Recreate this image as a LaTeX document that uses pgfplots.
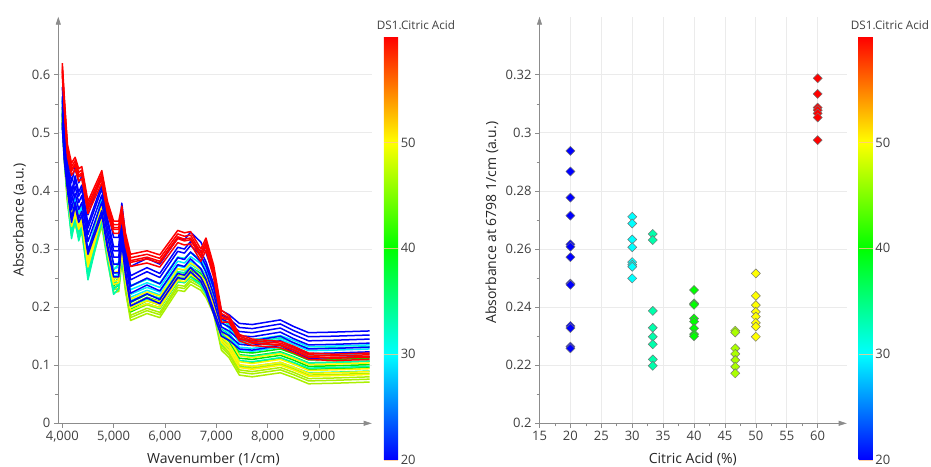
\documentclass[border=0pt]{standalone}
\usepackage{pgfplots}
\usepackage{pgfplotstable}
\usepackage{fontspec}
\setmainfont{Open Sans}
\pgfplotsset{compat=1.18}
\usetikzlibrary{arrows.meta}
\definecolor{cBlue}{RGB}{0,0,255}
\definecolor{cCyan}{RGB}{0,235,255}
\definecolor{cTeal}{RGB}{0,250,170}
\definecolor{cGreen}{RGB}{0,230,0}
\definecolor{cYG}{RGB}{170,240,0}
\definecolor{cYellow}{RGB}{255,245,0}
\definecolor{cRed}{RGB}{255,0,0}
\definecolor{tickgray}{RGB}{64,64,64}
\definecolor{axgray}{RGB}{140,140,140}

\pgfplotstableread{
x a b c d e
4000 0.620 0.614 0.609 0.606 0.599
4040 0.560 0.554 0.549 0.546 0.539
4100 0.480 0.474 0.469 0.466 0.459
4180 0.448 0.442 0.437 0.434 0.427
4250 0.458 0.452 0.447 0.444 0.437
4320 0.438 0.432 0.427 0.424 0.417
4380 0.442 0.436 0.431 0.428 0.421
4500 0.382 0.376 0.371 0.368 0.361
4770 0.435 0.429 0.424 0.421 0.414
4880 0.382 0.376 0.371 0.368 0.361
5000 0.348 0.342 0.337 0.334 0.327
5100 0.348 0.342 0.337 0.334 0.327
5160 0.374 0.368 0.363 0.360 0.353
5230 0.328 0.322 0.317 0.314 0.307
5330 0.291 0.285 0.280 0.277 0.270
5650 0.297 0.291 0.286 0.283 0.276
5900 0.290 0.284 0.279 0.276 0.269
6250 0.332 0.326 0.321 0.318 0.311
6380 0.328 0.322 0.317 0.314 0.307
6500 0.330 0.324 0.319 0.316 0.309
6700 0.300 0.294 0.289 0.286 0.279
6800 0.319 0.313 0.308 0.305 0.298
6950 0.272 0.266 0.261 0.258 0.251
7100 0.195 0.189 0.184 0.181 0.174
7250 0.185 0.182 0.179 0.178 0.174
7450 0.153 0.150 0.147 0.146 0.142
7700 0.145 0.142 0.139 0.138 0.134
8250 0.141 0.138 0.135 0.134 0.130
8500 0.133 0.130 0.127 0.126 0.122
8800 0.121 0.118 0.115 0.114 0.110
9300 0.119 0.116 0.113 0.112 0.108
9990 0.121 0.118 0.115 0.114 0.110
}\tRed

\pgfplotstableread{
x a b c d e f g
4000 0.579 0.563 0.556 0.545 0.533 0.518 0.511
4040 0.519 0.503 0.496 0.485 0.473 0.458 0.451
4100 0.469 0.453 0.446 0.435 0.423 0.408 0.401
4180 0.414 0.398 0.391 0.380 0.368 0.353 0.346
4250 0.442 0.426 0.419 0.408 0.396 0.381 0.374
4320 0.414 0.398 0.391 0.380 0.368 0.353 0.346
4380 0.426 0.410 0.403 0.392 0.380 0.365 0.358
4500 0.359 0.343 0.336 0.325 0.313 0.298 0.291
4770 0.427 0.411 0.404 0.393 0.381 0.366 0.359
4880 0.369 0.353 0.346 0.335 0.323 0.308 0.301
5000 0.320 0.304 0.297 0.286 0.274 0.259 0.252
5100 0.320 0.304 0.297 0.286 0.274 0.259 0.252
5160 0.379 0.363 0.356 0.345 0.333 0.318 0.311
5230 0.324 0.308 0.301 0.290 0.278 0.263 0.256
5330 0.270 0.254 0.247 0.236 0.224 0.209 0.202
5650 0.284 0.268 0.261 0.250 0.238 0.223 0.216
5900 0.274 0.258 0.251 0.240 0.228 0.213 0.206
6250 0.319 0.303 0.296 0.285 0.273 0.258 0.251
6380 0.316 0.300 0.293 0.282 0.270 0.255 0.248
6500 0.329 0.313 0.306 0.295 0.283 0.268 0.261
6700 0.312 0.296 0.289 0.278 0.266 0.251 0.244
6800 0.294 0.278 0.271 0.260 0.248 0.233 0.226
6950 0.256 0.240 0.233 0.222 0.210 0.195 0.188
7100 0.194 0.187 0.180 0.173 0.166 0.158 0.150
7250 0.187 0.180 0.173 0.166 0.159 0.151 0.143
7450 0.172 0.165 0.158 0.151 0.144 0.136 0.128
7700 0.170 0.163 0.156 0.149 0.142 0.134 0.126
8250 0.178 0.171 0.164 0.157 0.150 0.142 0.134
8500 0.167 0.160 0.153 0.146 0.139 0.131 0.123
8800 0.156 0.149 0.142 0.135 0.128 0.120 0.112
9300 0.157 0.150 0.143 0.136 0.129 0.121 0.113
9990 0.159 0.152 0.145 0.138 0.131 0.123 0.115
}\tBlue

\pgfplotstableread{
x a b c d
4000 0.551 0.544 0.536 0.531
4040 0.493 0.486 0.478 0.473
4100 0.423 0.416 0.408 0.403
4180 0.363 0.356 0.348 0.343
4250 0.389 0.382 0.374 0.369
4320 0.361 0.354 0.346 0.341
4380 0.373 0.366 0.358 0.353
4500 0.296 0.289 0.281 0.276
4770 0.386 0.379 0.371 0.366
4880 0.323 0.316 0.308 0.303
5000 0.273 0.266 0.258 0.253
5100 0.276 0.269 0.261 0.256
5160 0.329 0.322 0.314 0.309
5230 0.283 0.276 0.268 0.263
5330 0.237 0.230 0.222 0.217
5650 0.249 0.242 0.234 0.229
5900 0.241 0.234 0.226 0.221
6250 0.286 0.279 0.271 0.266
6380 0.283 0.276 0.268 0.263
6500 0.294 0.287 0.279 0.274
6700 0.282 0.275 0.267 0.262
6800 0.270 0.263 0.255 0.250
6950 0.239 0.232 0.224 0.219
7100 0.181 0.174 0.166 0.161
7250 0.171 0.164 0.156 0.151
7450 0.146 0.139 0.131 0.126
7700 0.144 0.137 0.129 0.124
8250 0.151 0.144 0.136 0.131
8500 0.143 0.136 0.128 0.123
8800 0.132 0.125 0.117 0.112
9300 0.133 0.126 0.118 0.113
9990 0.135 0.128 0.120 0.115
}\tCyan

\pgfplotstableread{
x a b c d
4000 0.559 0.534 0.525 0.517
4040 0.499 0.474 0.465 0.457
4100 0.429 0.404 0.395 0.387
4180 0.360 0.335 0.326 0.318
4250 0.392 0.367 0.358 0.350
4320 0.356 0.331 0.322 0.314
4380 0.376 0.351 0.342 0.334
4500 0.289 0.264 0.255 0.247
4770 0.390 0.365 0.356 0.348
4880 0.324 0.299 0.290 0.282
5000 0.264 0.239 0.230 0.222
5100 0.274 0.249 0.240 0.232
5160 0.329 0.304 0.295 0.287
5230 0.282 0.257 0.248 0.240
5330 0.236 0.211 0.202 0.194
5650 0.248 0.223 0.214 0.206
5900 0.240 0.215 0.206 0.198
6250 0.286 0.261 0.252 0.244
6380 0.284 0.259 0.250 0.242
6500 0.294 0.269 0.260 0.252
6700 0.280 0.255 0.246 0.238
6800 0.264 0.239 0.230 0.222
6950 0.236 0.211 0.202 0.194
7100 0.179 0.154 0.145 0.137
7250 0.169 0.144 0.135 0.127
7450 0.142 0.117 0.108 0.100
7700 0.140 0.115 0.106 0.098
8250 0.147 0.122 0.113 0.105
8500 0.139 0.114 0.105 0.097
8800 0.129 0.104 0.095 0.087
9300 0.130 0.105 0.096 0.088
9990 0.132 0.107 0.098 0.090
}\tTeal

\pgfplotstableread{
x a b c d
4000 0.538 0.533 0.527 0.522
4040 0.478 0.473 0.467 0.462
4100 0.408 0.403 0.397 0.392
4180 0.348 0.343 0.337 0.332
4250 0.372 0.367 0.361 0.356
4320 0.344 0.339 0.333 0.328
4380 0.356 0.351 0.345 0.340
4500 0.278 0.273 0.267 0.262
4770 0.368 0.363 0.357 0.352
4880 0.305 0.300 0.294 0.289
5000 0.248 0.243 0.237 0.232
5100 0.254 0.249 0.243 0.238
5160 0.306 0.301 0.295 0.290
5230 0.258 0.253 0.247 0.242
5330 0.208 0.203 0.197 0.192
5650 0.222 0.217 0.211 0.206
5900 0.215 0.210 0.204 0.199
6250 0.260 0.255 0.249 0.244
6380 0.259 0.254 0.248 0.243
6500 0.269 0.264 0.258 0.253
6700 0.258 0.253 0.247 0.242
6800 0.246 0.241 0.235 0.230
6950 0.220 0.215 0.209 0.204
7100 0.162 0.157 0.151 0.146
7250 0.152 0.147 0.141 0.136
7450 0.123 0.118 0.112 0.107
7700 0.121 0.116 0.110 0.105
8250 0.128 0.123 0.117 0.112
8500 0.120 0.115 0.109 0.104
8800 0.109 0.104 0.098 0.093
9300 0.110 0.105 0.099 0.094
9990 0.112 0.107 0.101 0.096
}\tGreen

\pgfplotstableread{
x a b c d
4000 0.544 0.534 0.529 0.524
4040 0.484 0.474 0.469 0.464
4100 0.414 0.404 0.399 0.394
4180 0.359 0.349 0.344 0.339
4250 0.379 0.369 0.364 0.359
4320 0.354 0.344 0.339 0.334
4380 0.364 0.354 0.349 0.344
4500 0.289 0.279 0.274 0.269
4770 0.376 0.366 0.361 0.356
4880 0.314 0.304 0.299 0.294
5000 0.259 0.249 0.244 0.239
5100 0.262 0.252 0.247 0.242
5160 0.314 0.304 0.299 0.294
5230 0.264 0.254 0.249 0.244
5330 0.214 0.204 0.199 0.194
5650 0.226 0.216 0.211 0.206
5900 0.219 0.209 0.204 0.199
6250 0.266 0.256 0.251 0.246
6380 0.264 0.254 0.249 0.244
6500 0.276 0.266 0.261 0.256
6700 0.264 0.254 0.249 0.244
6800 0.252 0.242 0.237 0.232
6950 0.222 0.212 0.207 0.202
7100 0.159 0.149 0.144 0.139
7250 0.146 0.136 0.131 0.126
7450 0.116 0.106 0.101 0.096
7700 0.113 0.103 0.098 0.093
8250 0.120 0.110 0.105 0.100
8500 0.112 0.102 0.097 0.092
8800 0.101 0.091 0.086 0.081
9300 0.102 0.092 0.087 0.082
9990 0.104 0.094 0.089 0.084
}\tYellow

\pgfplotstableread{
x a b c d
4000 0.526 0.520 0.516 0.511
4040 0.465 0.459 0.455 0.450
4100 0.395 0.389 0.385 0.380
4180 0.340 0.334 0.330 0.325
4250 0.358 0.352 0.348 0.343
4320 0.334 0.328 0.324 0.319
4380 0.343 0.337 0.333 0.328
4500 0.270 0.264 0.260 0.255
4770 0.355 0.349 0.345 0.340
4880 0.294 0.288 0.284 0.279
5000 0.240 0.234 0.230 0.225
5100 0.242 0.236 0.232 0.227
5160 0.293 0.287 0.283 0.278
5230 0.243 0.237 0.233 0.228
5330 0.192 0.186 0.182 0.177
5650 0.204 0.198 0.194 0.189
5900 0.197 0.191 0.187 0.182
6250 0.244 0.238 0.234 0.229
6380 0.242 0.236 0.232 0.227
6500 0.254 0.248 0.244 0.239
6700 0.244 0.238 0.234 0.229
6800 0.232 0.226 0.222 0.217
6950 0.203 0.197 0.193 0.188
7100 0.141 0.135 0.131 0.126
7250 0.128 0.122 0.118 0.113
7450 0.098 0.092 0.088 0.083
7700 0.095 0.089 0.085 0.080
8250 0.102 0.096 0.092 0.087
8500 0.094 0.088 0.084 0.079
8800 0.083 0.077 0.073 0.068
9300 0.084 0.078 0.074 0.069
9990 0.086 0.080 0.076 0.071
}\tYG

\pgfplotstableread{
x y
20 0.2938
20 0.2867
20 0.2777
20 0.2715
20 0.2616
20 0.2608
20 0.2572
20 0.2481
20 0.2477
20 0.2335
20 0.2328
20 0.2264
20 0.2258
30 0.2711
30 0.2688
30 0.2633
30 0.2606
30 0.2555
30 0.2546
30 0.2539
30 0.2499
33.33 0.2652
33.33 0.2631
33.33 0.2387
33.33 0.2329
33.33 0.2298
33.33 0.2272
33.33 0.2220
33.33 0.2198
40 0.2459
40 0.2413
40 0.2408
40 0.2361
40 0.2350
40 0.2327
40 0.2307
40 0.2300
46.67 0.2319
46.67 0.2313
46.67 0.2258
46.67 0.2239
46.67 0.2218
46.67 0.2195
46.67 0.2172
50 0.2516
50 0.2439
50 0.2407
50 0.2384
50 0.2367
50 0.2346
50 0.2333
50 0.2298
60 0.3188
60 0.3134
60 0.3087
60 0.3078
60 0.3067
60 0.3053
60 0.2975
}\tScatter

\pgfplotsset{
  citcm/.style={colormap={cit}{rgb255=(0,0,255) rgb255=(0,128,255) rgb255=(0,255,255) rgb255=(0,255,128) rgb255=(0,255,0) rgb255=(128,255,0) rgb255=(255,255,0) rgb255=(255,128,0) rgb255=(255,0,0)}},
  common/.style={
    citcm,
    scale only axis,
    axis lines=left,
    axis line style={draw=axgray, line width=0.8pt, -{Triangle[length=8pt,width=5pt]}},
    tick style={draw=axgray, line width=0.6pt},
    tick align=outside,
    major tick length=4.5pt,
    minor tick length=3pt,
    grid style={draw=black!8, line width=0.8pt},
    tick label style={font=\fontsize{13}{15}\selectfont, text=tickgray},
    /pgf/number format/assume math mode=true,
    label style={font=\fontsize{14}{16}\selectfont, text=black!85},
    point meta min=20, point meta max=60,
    colorbar,
  },
  cbar/.style={
    at={(parent axis.north east)}, anchor=north west,
    scale only axis, width=14.3pt, height=423.3pt,
    ytick={20,30,40,50},
    major tick length=0pt,
    axis line style={draw=none},
    axis on top,
    ymajorgrids,
    grid style={draw=orange!45!white, line width=0.6pt, opacity=0.8},
    yticklabel style={font=\fontsize{13}{15}\selectfont, text=tickgray, /pgf/number format/assume math mode=true, xshift=-1pt},
  },
}

\begin{document}
\begin{tikzpicture}
\path[use as bounding box] (0,0) rectangle (931pt,466pt);
\begin{axis}[common,
  at={(58.3pt,42.7pt)}, anchor=south west,
  width=313.4pt, height=406.6pt,
  xmin=3922, xmax=10030, ymin=0, ymax=0.7,
  xtick={4000,5000,6000,7000,8000,9000},
  ytick={0,0.1,0.2,0.3,0.4,0.5,0.6},
  minor y tick num=1,
  scaled x ticks=false,
  xticklabel style={/pgf/number format/1000 sep={,}},
  ymajorgrids,
  xlabel={Wavenumber (1/cm)},
  ylabel={Absorbance (a.u.)},
  xlabel style={at={(axis description cs:0.495,0)}, anchor=center, yshift=-35.5pt},
  ylabel style={at={(axis description cs:0,0.5)}, anchor=center, yshift=39pt},
  colorbar style={cbar, xshift=3.7pt, yshift=-20pt},
  every axis plot/.append style={line width=1.5pt, line join=round},
]
\foreach \c in {a,b,c,d} {\addplot[cYG] table[x=x,y=\c] {\tYG};}
\foreach \c in {a,b,c,d} {\addplot[cGreen] table[x=x,y=\c] {\tGreen};}
\foreach \c in {a,b,c,d} {\addplot[cTeal] table[x=x,y=\c] {\tTeal};}
\foreach \c in {a,b,c,d} {\addplot[cCyan] table[x=x,y=\c] {\tCyan};}
\foreach \c in {a,b,c,d} {\addplot[cYellow] table[x=x,y=\c] {\tYellow};}
\foreach \c in {a,b,c,d,e,f,g} {\addplot[cBlue] table[x=x,y=\c] {\tBlue};}
\foreach \c in {a,b,c,d,e} {\addplot[cRed] table[x=x,y=\c] {\tRed};}
\end{axis}

\begin{axis}[common,
  at={(539.5pt,42.7pt)}, anchor=south west,
  width=307.2pt, height=406.6pt,
  xmin=15, xmax=64.7, ymin=0.2, ymax=0.34,
  xtick={15,20,...,60},
  ytick={0.2,0.22,0.24,0.26,0.28,0.3,0.32},
  minor y tick num=1, minor x tick num=1,
  xmajorgrids, ymajorgrids,
  xlabel={Citric Acid (\%)},
  ylabel={Absorbance at 6798 1/cm (a.u.)},
  xlabel style={at={(axis description cs:0.499,0)}, anchor=center, yshift=-35.5pt},
  ylabel style={at={(axis description cs:0,0.493)}, anchor=center, yshift=47.5pt},
  colorbar style={cbar, xshift=3.3pt, yshift=-20pt},
]
\addplot[scatter, only marks, mark=square*, mark size=3.2pt,
  mark options={rotate=45, line width=0.5pt},
  scatter/use mapped color={draw=black!55, fill=mapped color},
  point meta=x] table[x=x,y=y] {\tScatter};
\end{axis}

\node[anchor=base west, font=\fontsize{11.7}{14}\selectfont, text=tickgray, inner sep=0pt] at (376.7pt,436pt) {DS1.Citric Acid};
\node[anchor=base west, font=\fontsize{11.7}{14}\selectfont, text=tickgray, inner sep=0pt] at (850.7pt,436pt) {DS1.Citric Acid};
\end{tikzpicture}
\end{document}
